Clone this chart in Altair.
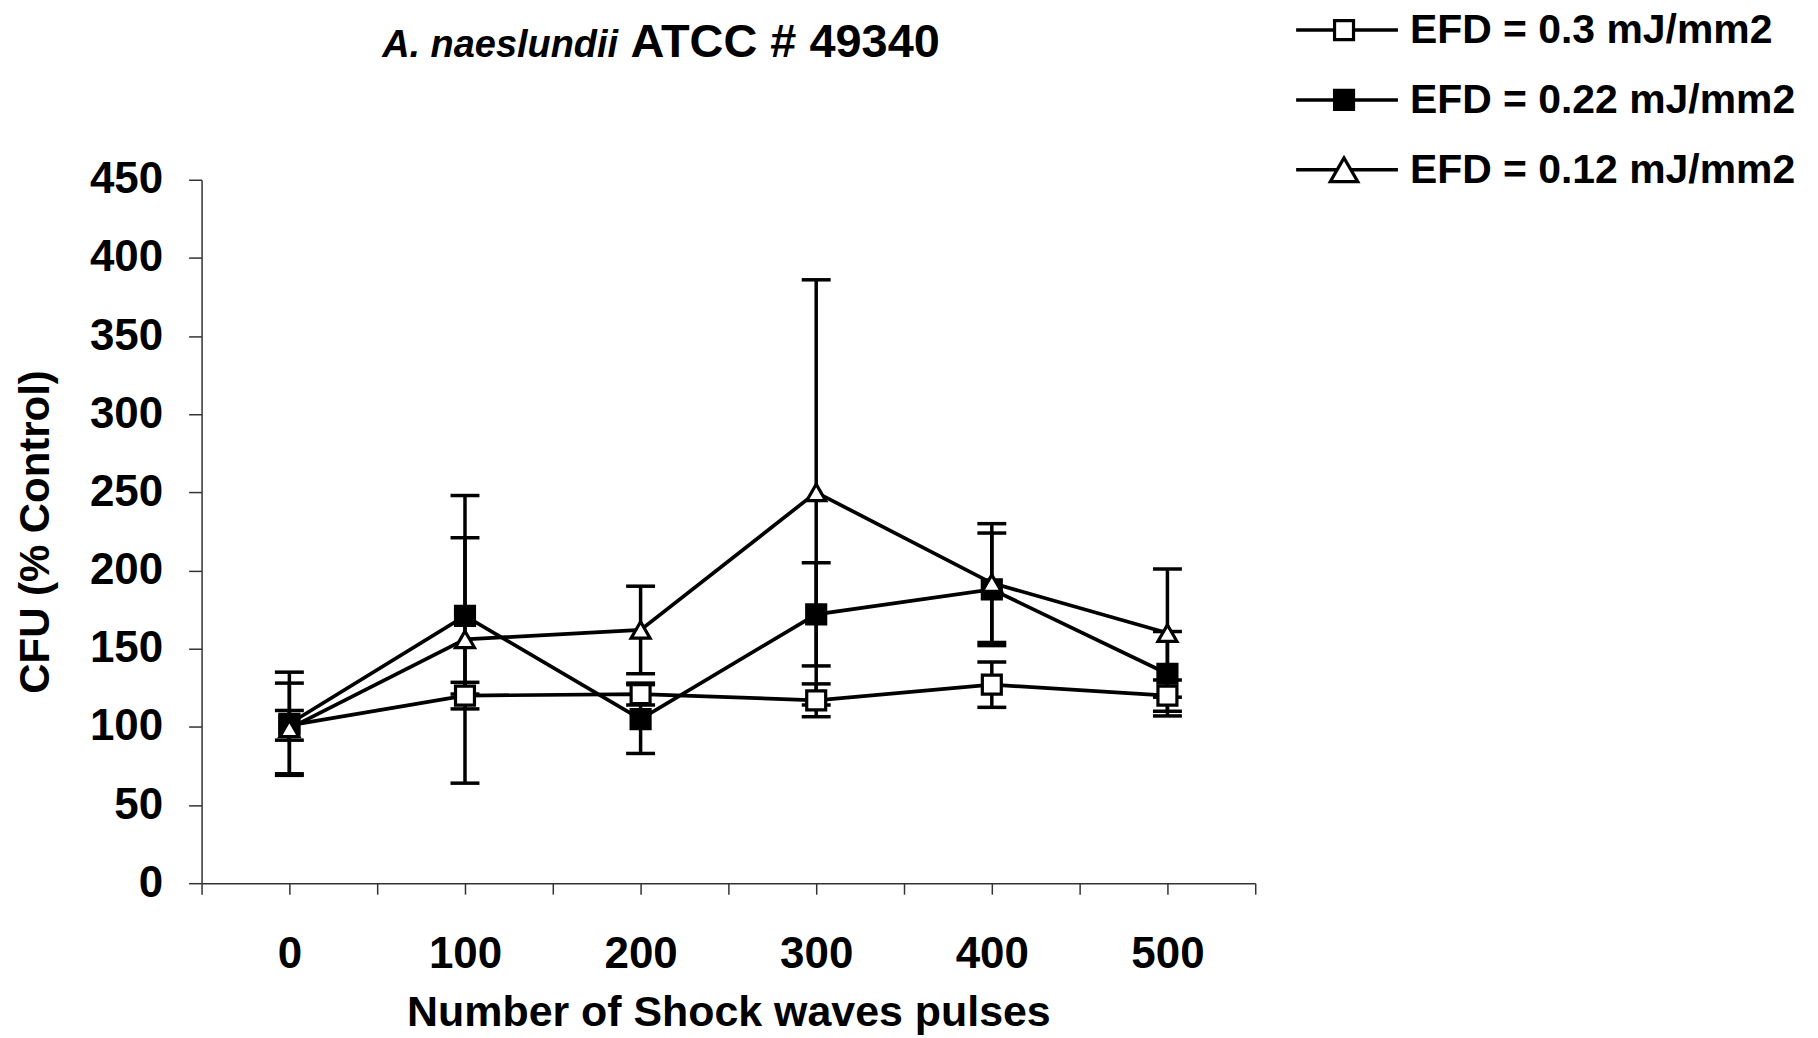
import altair as alt
import pandas as pd

# ---- data ----
pulses = [0, 100, 200, 300, 400, 500]
series_names = ["EFD = 0.3 mJ/mm2", "EFD = 0.22 mJ/mm2", "EFD = 0.12 mJ/mm2"]
cfu_03 = [101, 120, 121, 117, 127, 120]
err_03 = [9.5, 8.5, 7, 10.5, 14.5, 10]
cfu_022 = [102, 171, 105, 172, 188, 134]
err_022 = [33, 50, 22, 33, 36, 27]
cfu_012 = [99, 156, 162, 250, 192, 160]
err_012 = [29, 92, 28, 136, 38, 41]
x_ticks = [-50, 0, 50, 100, 150, 200, 250, 300, 350, 400, 450, 500, 550]
y_ticks = [0, 50, 100, 150, 200, 250, 300, 350, 400, 450]

marker_shapes = ["square", "square", "triangle-up"]
marker_fills = ["white", "black", "white"]
marker_sizes = [361, 361, 760]

rows = []
for name, vals, errs in zip(series_names, [cfu_03, cfu_022, cfu_012], [err_03, err_022, err_012]):
    for p, v, e in zip(pulses, vals, errs):
        rows.append({"series": name, "pulses": p, "cfu": v, "lo": v - e, "hi": v + e})
df = pd.DataFrame(rows)

W, H = 1056, 705
FONT = "Liberation Sans"

x_axis = alt.Axis(
    values=x_ticks,
    labelExpr="(datum.value >= 0 && datum.value <= 500 && datum.value % 100 == 0) ? datum.label : ''",
    format="d",
    title="Number of Shock waves pulses",
    tickSize=11,
    labelPadding=38,
    titlePadding=16,
    labelFlush=False,
    labelOverlap=False,
    grid=False,
    titleFontSize=43,
)
y_axis = alt.Axis(
    values=y_ticks,
    title="CFU (% Control)",
    tickSize=13,
    labelPadding=26,
    titlePadding=32,
    grid=False,
)
x_scale = alt.Scale(domain=[-50, 550], nice=False, zero=False)
y_scale = alt.Scale(domain=[0, 450], nice=False)

X = alt.X("pulses:Q", scale=x_scale, axis=x_axis)

base = alt.Chart(df)

err_rule = base.mark_rule(color="black", strokeWidth=3.5).encode(
    x=X,
    y=alt.Y("lo:Q", scale=y_scale, axis=y_axis),
    y2="hi:Q",
)
cap_hi = base.mark_tick(orient="horizontal", size=29, thickness=3.5, color="black", opacity=1).encode(
    x=X, y=alt.Y("hi:Q", scale=y_scale, axis=y_axis)
)
cap_lo = base.mark_tick(orient="horizontal", size=29, thickness=3.5, color="black", opacity=1).encode(
    x=X, y=alt.Y("lo:Q", scale=y_scale, axis=y_axis)
)
lines = base.mark_line(color="black", strokeWidth=3.7).encode(
    x=X,
    y=alt.Y("cfu:Q", scale=y_scale, axis=y_axis),
    detail="series:N",
)
points = base.mark_point(filled=True, stroke="black", strokeWidth=3.2, opacity=1).encode(
    x=X,
    y=alt.Y("cfu:Q", scale=y_scale, axis=y_axis),
    shape=alt.Shape("series:N", scale=alt.Scale(domain=series_names, range=marker_shapes), legend=None),
    fill=alt.Fill("series:N", scale=alt.Scale(domain=series_names, range=marker_fills), legend=None),
    size=alt.Size("series:N", scale=alt.Scale(domain=series_names, range=marker_sizes), legend=None),
)

layers = [err_rule, cap_hi, cap_lo, lines, points]

# ---- title (mixed italic / bold) ----
one = pd.DataFrame({"k": [0]})
title_a = alt.Chart(one).mark_text(
    font=FONT, fontSize=38, fontWeight="bold", fontStyle="italic", align="left", baseline="alphabetic", color="black"
).encode(x=alt.value(181), y=alt.value(-123), text=alt.value("A. naeslundii"))
title_b = alt.Chart(one).mark_text(
    font=FONT, fontSize=47, fontWeight="bold", align="left", baseline="alphabetic", color="black"
).encode(x=alt.value(430), y=alt.value(-123), text=alt.value("ATCC # 49340"))
layers += [title_a, title_b]

# ---- legend (top right) ----
for i, (name, shp, fil, sz) in enumerate(zip(series_names, marker_shapes, marker_fills, marker_sizes)):
    ly = -150 + 70 * i
    ldf = pd.DataFrame({"label": [name]})
    layers.append(
        alt.Chart(ldf).mark_rule(color="black", strokeWidth=3.5).encode(
            x=alt.value(1097), x2=alt.value(1199), y=alt.value(ly)
        )
    )
    layers.append(
        alt.Chart(ldf).mark_point(filled=True, size=sz, stroke="black", strokeWidth=3.2, opacity=1).encode(
            x=alt.value(1145), y=alt.value(ly), shape=alt.value(shp), fill=alt.value(fil)
        )
    )
    layers.append(
        alt.Chart(ldf).mark_text(
            font=FONT, fontSize=41, fontWeight="bold", align="left", baseline="middle", color="black"
        ).encode(x=alt.value(1211), y=alt.value(ly + 1), text="label:N")
    )

chart = alt.layer(*layers).properties(
    width=W,
    height=H,
    padding={"left": 194, "top": 171, "right": 556, "bottom": 154},
    autosize=alt.AutoSizeParams(type="none"),
    background="white",
).configure_view(stroke=None).configure_axis(
    domainColor="#333333",
    domainWidth=1.5,
    tickColor="#333333",
    tickWidth=1.5,
    labelFont=FONT,
    labelFontSize=44,
    labelFontWeight="bold",
    labelColor="black",
    titleFont=FONT,
    titleFontSize=42,
    titleFontWeight="bold",
    titleColor="black",
)

chart.save("out.html", embed_options={"renderer": "svg", "actions": False})
